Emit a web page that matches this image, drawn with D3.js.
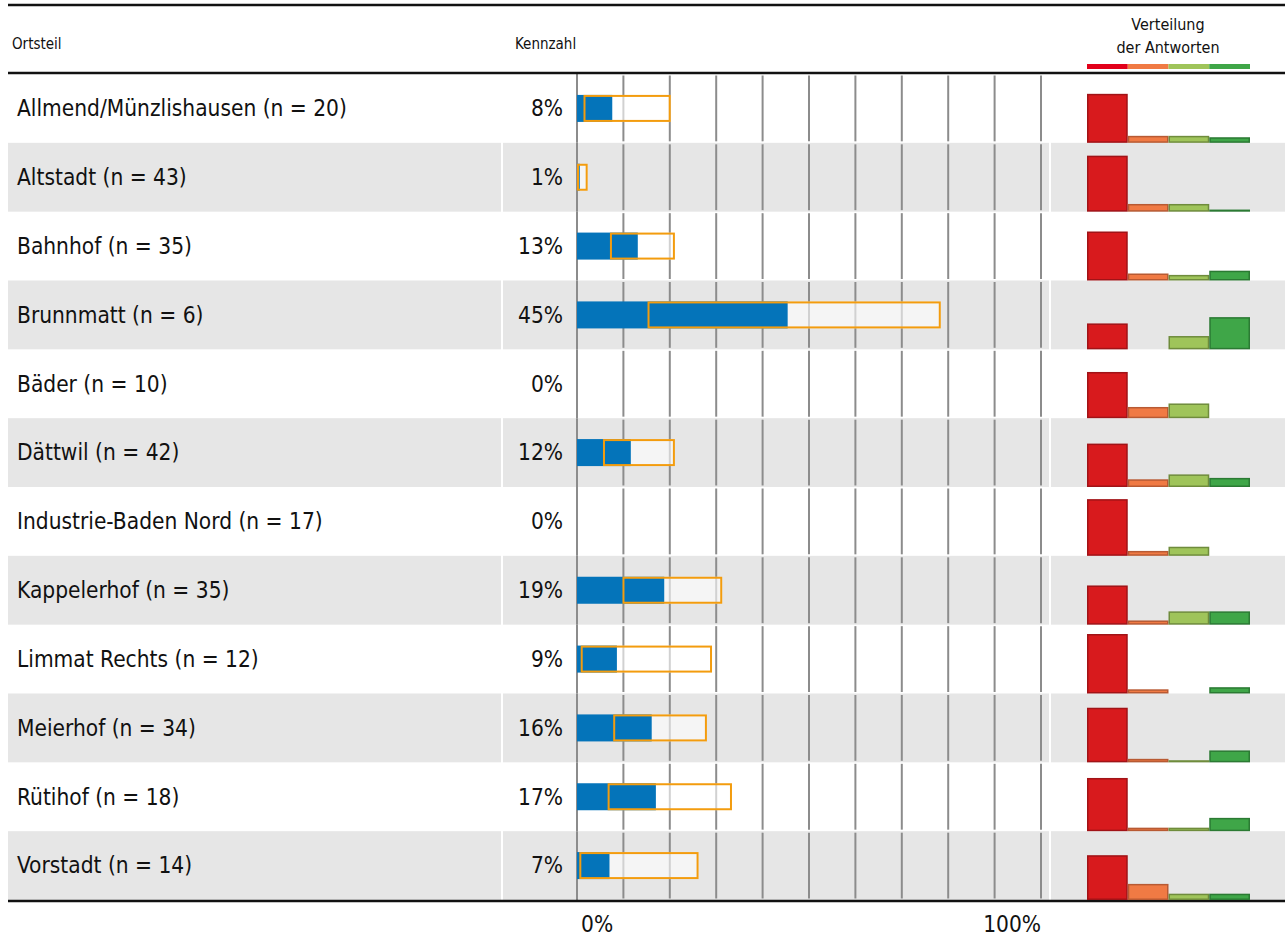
<!DOCTYPE html>
<html>
<head>
<meta charset="utf-8">
<script src="https://cdn.jsdelivr.net/npm/d3@7"></script>
<style>
  body { margin: 0; background: #fff; }
  svg text { font-family: "DejaVu Sans Condensed", "DejaVu Sans", sans-serif; fill: #111; }
</style>
</head>
<body>
<svg width="1285" height="938"></svg>
<script>
// data
var districts = ["Allmend/Münzlishausen (n = 20)", "Altstadt (n = 43)", "Bahnhof (n = 35)",
    "Brunnmatt (n = 6)", "Bäder (n = 10)", "Dättwil (n = 42)", "Industrie-Baden Nord (n = 17)",
    "Kappelerhof (n = 35)", "Limmat Rechts (n = 12)", "Meierhof (n = 34)", "Rütihof (n = 18)",
    "Vorstadt (n = 14)"];
var values = [7.6, 0.6, 13.1, 45.4, 0, 11.6, 0, 18.8, 8.6, 16.1, 17.0, 7.0];
var lower = [1.4, 0, 7.1, 15.2, null, 5.6, null, 9.8, 0.8, 7.8, 6.6, 0.5];
var upper = [20.2, 2.3, 21.1, 78.4, null, 21.1, null, 31.3, 29.1, 28.0, 33.4, 26.2];
// answer distribution (%), from negative to positive
var answers = ["1", "2", "3", "4"];
var shares = [
    [70, 10, 10, 8],
    [80, 11, 11, 3],
    [70, 10, 8, 14],
    [37, 0, 19, 46],
    [66, 16, 21, 0],
    [62, 11, 18, 13],
    [81, 7, 13, 0],
    [56, 6, 19, 19],
    [85, 6, 0, 9],
    [78, 5, 3, 17],
    [76, 5, 5, 19],
    [64, 23, 9, 9]
];
var axisLabels = ["0%", "100%"];

var svg = d3.select("svg"),
    width = +svg.attr("width"),
    height = +svg.attr("height");

var fillCols = ["#d81a1d", "#f07a44", "#9fc45a", "#3fa648"];
var strokeCols = ["#a11317", "#b85a33", "#6f8c3c", "#2b7a33"];
var legendCols = ["#e2001a", "#f07a44", "#9fc45a", "#3fa648"];

var y = d3.scaleBand()
    .domain(districts)
    .range([74, 900]);

var x = d3.scaleLinear()
    .domain([0, 100])
    .range([577, 1041]);

var hx = d3.scaleBand()
    .domain(answers)
    .range([1087, 1250]);

var hy = d3.scaleLinear()
    .domain([0, 100])
    .range([0, 70]);

// row backgrounds
svg.append("g")
  .selectAll("rect")
  .data(districts.filter(function(d, i) { return i % 2 == 1; }))
  .enter().append("rect")
    .attr("x", 8)
    .attr("y", function(d) { return y(d); })
    .attr("width", width - 8)
    .attr("height", y.bandwidth())
    .attr("fill", "#e6e6e6");

// white column separators in the grey rows
[502, 1050].forEach(function(sx) {
    svg.append("line")
        .attr("x1", sx).attr("x2", sx)
        .attr("y1", 74).attr("y2", 900)
        .attr("stroke", "#fff")
        .attr("stroke-width", 2);
});

// grid, drawn per row with a small gap
var grid = svg.append("g");
districts.forEach(function(d) {
    grid.selectAll(null)
      .data(x.ticks(10))
      .enter().append("line")
        .attr("x1", function(t) { return x(t); })
        .attr("x2", function(t) { return x(t); })
        .attr("y1", function(t) { return t == 0 ? y(d) : y(d) + 1.5; })
        .attr("y2", function(t) { return t == 0 ? y(d) + y.bandwidth() : y(d) + y.bandwidth() - 1.5; })
        .attr("stroke", "#8c8c8c")
        .attr("stroke-width", 2);
});

// header lines
svg.append("line").attr("x1", 8).attr("x2", width).attr("y1", 5).attr("y2", 5)
    .attr("stroke", "#111").attr("stroke-width", 2.5);
svg.append("line").attr("x1", 8).attr("x2", width).attr("y1", 73).attr("y2", 73)
    .attr("stroke", "#111").attr("stroke-width", 2.5);
svg.append("line").attr("x1", 8).attr("x2", width).attr("y1", 901).attr("y2", 901)
    .attr("stroke", "#111").attr("stroke-width", 2.5);

svg.append("text").attr("x", 12).attr("y", 49).attr("font-size", 15).text("Ortsteil");
svg.append("text").attr("x", 515).attr("y", 49).attr("font-size", 15).text("Kennzahl");
svg.append("text").attr("x", 1168).attr("y", 30).attr("font-size", 16)
    .attr("text-anchor", "middle").text("Verteilung");
svg.append("text").attr("x", 1168).attr("y", 53).attr("font-size", 16)
    .attr("text-anchor", "middle").text("der Antworten");

svg.append("g")
  .selectAll("rect")
  .data(answers)
  .enter().append("rect")
    .attr("x", function(d) { return hx(d); })
    .attr("y", 64)
    .attr("width", hx.bandwidth())
    .attr("height", 5)
    .attr("fill", function(d, i) { return legendCols[i]; });

// row labels
var rows = svg.append("g")
  .selectAll("g")
  .data(districts)
  .enter().append("g")
    .attr("transform", function(d) { return "translate(0," + y(d) + ")"; });

rows.append("text")
    .attr("x", 17)
    .attr("y", y.bandwidth() / 2)
    .attr("dy", "0.35em")
    .attr("font-size", 22.5)
    .text(function(d) { return d; });

rows.append("text")
    .attr("x", 563)
    .attr("y", y.bandwidth() / 2)
    .attr("dy", "0.35em")
    .attr("text-anchor", "end")
    .attr("font-size", 22.5)
    .text(function(d, i) { return d3.format(".0f")(values[i]) + "%"; });

// bars with interval boxes
var bh = 27;
rows.filter(function(d, i) { return lower[i] != null; })
  .append("rect")
    .attr("x", function(d) { return x(lower[districts.indexOf(d)]); })
    .attr("y", (y.bandwidth() - bh) / 2)
    .attr("width", function(d) { var i = districts.indexOf(d); return x(upper[i]) - x(lower[i]); })
    .attr("height", bh)
    .attr("fill", "#fff")
    .attr("fill-opacity", 0.6);

rows.append("rect")
    .attr("x", x(0))
    .attr("y", (y.bandwidth() - bh) / 2)
    .attr("width", function(d, i) { return x(values[i]) - x(0); })
    .attr("height", bh)
    .attr("fill", "#0474ba");

rows.filter(function(d, i) { return lower[i] != null; })
  .append("rect")
    .attr("x", function(d) { return x(lower[districts.indexOf(d)]) + 1; })
    .attr("y", (y.bandwidth() - bh) / 2 + 1)
    .attr("width", function(d) { var i = districts.indexOf(d); return x(upper[i]) - x(lower[i]) - 2; })
    .attr("height", bh - 2)
    .attr("fill", "none")
    .attr("stroke", "#f39c0e")
    .attr("stroke-width", 2);

// answer distribution histograms
rows.each(function(d, i) {
    d3.select(this).selectAll(".hist")
      .data(shares[i])
      .enter().append("rect")
        .attr("class", "hist")
        .attr("x", function(s, j) { return hx(answers[j]) + 0.75; })
        .attr("y", function(s) { return y.bandwidth() - hy(s) + 0.75; })
        .attr("width", hx.bandwidth() - 1.5)
        .attr("height", function(s) { return Math.max(0, hy(s) - 1.5); })
        .attr("fill", function(s, j) { return fillCols[j]; })
        .attr("stroke", function(s, j) { return s > 0 ? strokeCols[j] : "none"; })
        .attr("stroke-width", 1.5);
});

// axis labels
svg.append("text").attr("x", x(0) + 4).attr("y", 932).attr("font-size", 22.5)
    .text(axisLabels[0]);
svg.append("text").attr("x", x(100)).attr("y", 932).attr("font-size", 22.5)
    .attr("text-anchor", "end").text(axisLabels[1]);
</script>
</body>
</html>
